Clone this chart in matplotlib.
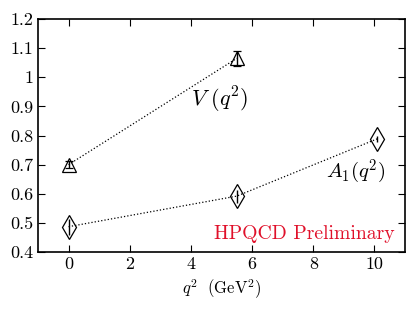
import matplotlib
matplotlib.use("Agg")
import matplotlib.pyplot as plt
from matplotlib.ticker import FuncFormatter

plt.rcParams['font.family'] = 'serif'
plt.rcParams['font.serif'] = ['cmr10']
plt.rcParams['mathtext.fontset'] = 'cm'
plt.rcParams['axes.unicode_minus'] = False
plt.rcParams['axes.formatter.use_mathtext'] = True

# Data
v_q2 = [0.0, 5.5]
v_val = [0.700, 1.065]
v_err = [0.012, 0.026]

a1_q2 = [0.0, 5.5, 10.1]
a1_val = [0.487, 0.592, 0.789]
a1_err = [0.028, 0.022, 0.010]

xticks = [0, 2, 4, 6, 8, 10]
yticks = [0.4, 0.5, 0.6, 0.7, 0.8, 0.9, 1.0, 1.1, 1.2]

fig = plt.figure(figsize=(4.16, 3.10), dpi=100)
ax = fig.add_axes([0.0913, 0.187, 0.8823, 0.7517])

ax.plot(v_q2, v_val, ls=':', color='black', lw=0.9)
ax.errorbar(v_q2, v_val, yerr=v_err, fmt='^', mfc='none', mec='black',
            ecolor='black', ms=10, mew=0.9, capsize=3, elinewidth=1.0, capthick=1.0)
ax.plot(a1_q2, a1_val, ls=':', color='black', lw=0.9)
ax.errorbar(a1_q2, a1_val, yerr=a1_err, fmt='d', mfc='none', mec='black',
            ecolor='black', ms=12, mew=0.9, capsize=0, elinewidth=1.0)

ax.text(4.93, 0.922, r'$V\ (q^2)$', fontsize=16, ha='center', va='center')
ax.text(9.4, 0.675, r'$A_1(q^2)$', fontsize=15, ha='center', va='center')
ax.text(10.65, 0.462, 'HPQCD Preliminary', fontsize=14.2, color='#e0102a',
        ha='right', va='center')

ax.set_xlim(-1, 11)
ax.set_ylim(0.4, 1.2)
ax.set_xticks(xticks)
ax.set_yticks(yticks)
ax.yaxis.set_major_formatter(FuncFormatter(lambda v, p: '%g' % v))
ax.xaxis.set_major_formatter(FuncFormatter(lambda v, p: '%g' % v))
ax.tick_params(direction='in', top=True, right=True, length=5, width=0.8,
               labelsize=13)
for s in ax.spines.values():
    s.set_linewidth(1.2)
ax.set_xlabel(r'$q^2\ \ (\mathrm{GeV}^2)$', fontsize=12, labelpad=4)

fig.savefig('out.png', dpi=100)
